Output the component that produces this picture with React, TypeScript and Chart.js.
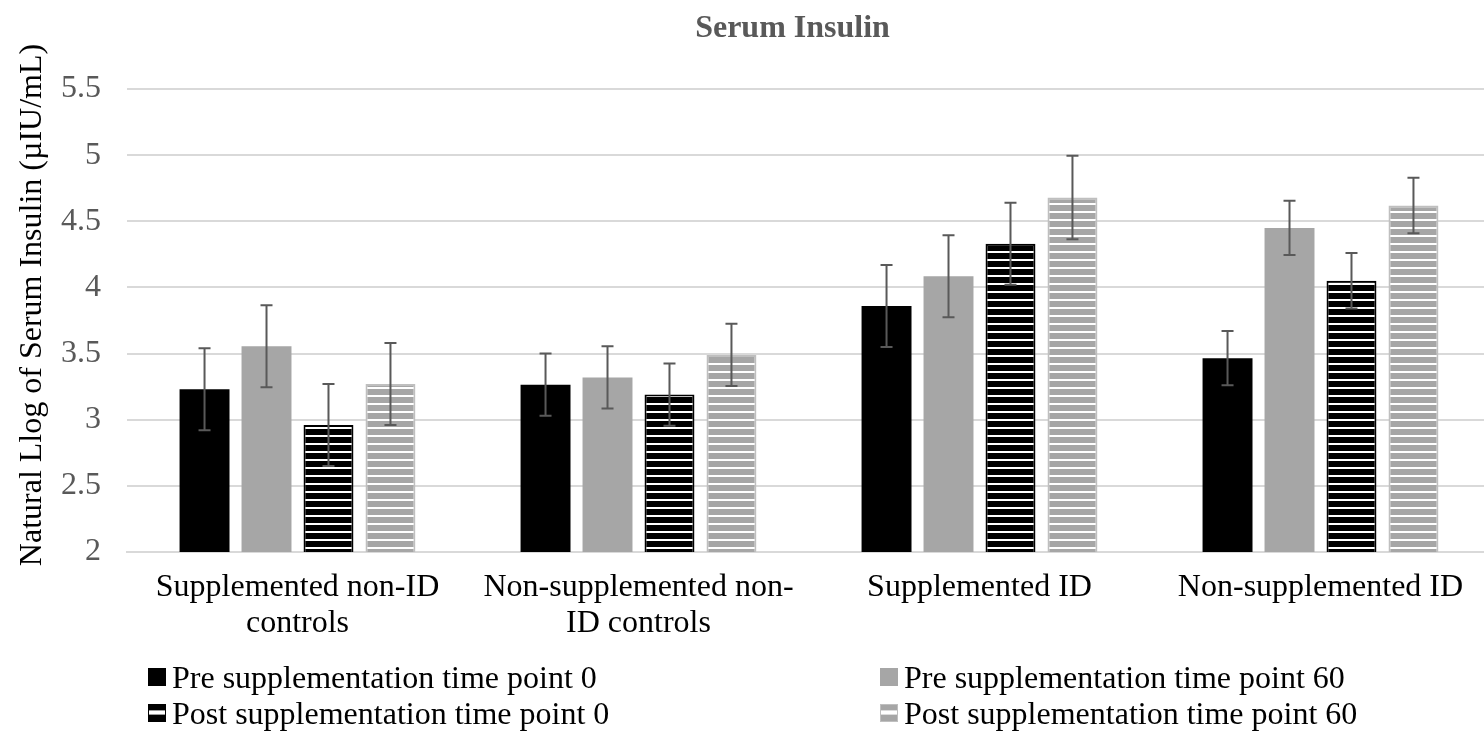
import React, { useEffect, useRef } from "react";
import { Chart, registerables } from "chart.js";

Chart.register(...registerables);

// ---------- data ----------
const categories: (string | string[])[] = [
  ["Supplemented non-ID", "controls"],
  ["Non-supplemented non-", "ID controls"],
  "Supplemented ID",
  "Non-supplemented ID",
];

const seriesLabels = [
  "Pre supplementation time point 0",
  "Pre supplementation time point 60",
  "Post supplementation time point 0",
  "Post supplementation time point 60",
];

const pre0 = [3.23, 3.265, 3.86, 3.465];
const pre60 = [3.555, 3.32, 4.085, 4.45];
const post0 = [2.96, 3.19, 4.33, 4.05];
const post60 = [3.27, 3.49, 4.68, 4.62];

const pre0Err = [0.31, 0.235, 0.31, 0.205];
const pre60Err = [0.31, 0.235, 0.31, 0.205];
const post0Err = [0.31, 0.235, 0.31, 0.21];
const post60Err = [0.31, 0.235, 0.315, 0.21];

const Y_MIN = 2;
const Y_MAX = 5.5;
const Y_STEP = 0.5;

const CHART_TITLE = "Serum Insulin";
const Y_TITLE = "Natural Llog of Serum Insulin (\u00b5IU/mL)";

// ---------- styles ----------
const FONT = '"Liberation Serif", "Times New Roman", serif';
const GRAY = "#a6a6a6";
const TEXT_GRAY = "#595959";

function makeStripes(ctx: CanvasRenderingContext2D, base: string, line: string) {
  const tile = document.createElement("canvas");
  tile.width = 8;
  tile.height = 8;
  const g = tile.getContext("2d")!;
  g.fillStyle = base;
  g.fillRect(0, 0, 8, 8);
  g.fillStyle = line;
  g.fillRect(0, 3, 8, 2);
  return ctx.createPattern(tile, "repeat")!;
}

const errorBarPlugin = {
  id: "errorBars",
  afterDatasetsDraw(chart: any) {
    const ctx = chart.ctx;
    const y = chart.scales.y;
    chart.data.datasets.forEach((ds: any, i: number) => {
      const meta = chart.getDatasetMeta(i);
      meta.data.forEach((bar: any, j: number) => {
        const v = ds.data[j];
        const e = ds.errors[j];
        const yt = y.getPixelForValue(v + e);
        const yb = y.getPixelForValue(v - e);
        ctx.save();
        ctx.strokeStyle = TEXT_GRAY;
        ctx.lineWidth = 2;
        ctx.beginPath();
        ctx.moveTo(bar.x, yt);
        ctx.lineTo(bar.x, yb);
        ctx.moveTo(bar.x - 6, yt);
        ctx.lineTo(bar.x + 6, yt);
        ctx.moveTo(bar.x - 6, yb);
        ctx.lineTo(bar.x + 6, yb);
        ctx.stroke();
        ctx.restore();
      });
    });
  },
};

const textPlugin = {
  id: "texts",
  afterDraw(chart: any) {
    const ctx = chart.ctx;
    ctx.save();
    ctx.fillStyle = TEXT_GRAY;
    ctx.font = `bold 32px ${FONT}`;
    ctx.textAlign = "center";
    ctx.textBaseline = "middle";
    ctx.fillText(CHART_TITLE, chart.width / 2, 29);
    ctx.restore();

    ctx.save();
    ctx.fillStyle = "#000";
    ctx.font = `32px ${FONT}`;
    ctx.translate(33, 305);
    ctx.rotate(-Math.PI / 2);
    ctx.textAlign = "center";
    ctx.textBaseline = "middle";
    ctx.fillText(Y_TITLE, 0, 0);
    ctx.restore();
  },
};

function LegendSwatch({ kind }: { kind: number }) {
  const styles: React.CSSProperties[] = [
    { background: "#000" },
    { background: GRAY },
    {
      background:
        "linear-gradient(to bottom, #000 0px, #000 5px, #9a9a9a 5px, #9a9a9a 6px, #fff 6px, #fff 9px, #9a9a9a 9px, #9a9a9a 10px, #000 10px, #000 18px)",
      border: "1px solid #000",
      boxSizing: "border-box",
    },
    {
      background:
        "linear-gradient(to bottom, " + GRAY + " 0px, " + GRAY + " 5px, #dcdcdc 5px, #dcdcdc 6px, #fff 6px, #fff 9px, #dcdcdc 9px, #dcdcdc 10px, " + GRAY + " 10px, " + GRAY + " 18px)",
      border: "1px solid #bfbfbf",
      boxSizing: "border-box",
    },
  ];
  return (
    <div
      style={{
        width: 18,
        height: 18,
        marginRight: 6,
        flex: "0 0 auto",
        ...styles[kind],
      }}
    />
  );
}

export default function App() {
  const canvasRef = useRef<HTMLCanvasElement | null>(null);

  useEffect(() => {
    document.body.style.margin = "0";
    const canvas = canvasRef.current!;
    const ctx = canvas.getContext("2d")!;
    const blackStripes = makeStripes(ctx, "#000", "#fff");
    const grayStripes = makeStripes(ctx, GRAY, "#fff");

    const common = {
      categoryPercentage: 0.727,
      barPercentage: 0.806,
    };

    const chart = new Chart(canvas, {
      type: "bar",
      data: {
        labels: categories,
        datasets: [
          { label: seriesLabels[0], data: pre0, errors: pre0Err, backgroundColor: "#000", borderWidth: 0, ...common } as any,
          { label: seriesLabels[1], data: pre60, errors: pre60Err, backgroundColor: GRAY, borderWidth: 0, ...common } as any,
          { label: seriesLabels[2], data: post0, errors: post0Err, backgroundColor: blackStripes, borderColor: "#000", borderWidth: 2, borderSkipped: false, ...common } as any,
          { label: seriesLabels[3], data: post60, errors: post60Err, backgroundColor: grayStripes, borderColor: "#bfbfbf", borderWidth: 2, borderSkipped: false, ...common } as any,
        ],
      },
      options: {
        responsive: false,
        animation: false,
        layout: { padding: { top: 89, bottom: 91, left: 0, right: 94 } },
        plugins: {
          legend: { display: false },
          tooltip: { enabled: false },
          title: { display: false },
        },
        scales: {
          x: {
            grid: { display: false, drawTicks: false },
            border: { display: true, color: "#d9d9d9", width: 2 },
            ticks: {
              font: { family: FONT, size: 32, lineHeight: 1.125 },
              color: "#000",
              padding: 18,
              maxRotation: 0,
              minRotation: 0,
              autoSkip: false,
            },
            afterFit: (s: any) => {
              s.height = 100;
            },
          },
          y: {
            min: Y_MIN,
            max: Y_MAX,
            ticks: {
              stepSize: Y_STEP,
              font: { family: FONT, size: 32 },
              color: TEXT_GRAY,
              padding: 26,
              callback: (v: any) => String(Number(v)),
            },
            grid: { color: "#d9d9d9", lineWidth: 2, drawTicks: false },
            border: { display: false },
            afterFit: (s: any) => {
              s.width = 127;
            },
          },
        },
      } as any,
      plugins: [errorBarPlugin, textPlugin],
    });
    return () => chart.destroy();
  }, []);

  const legendPos = [
    { left: 148, top: 659 },
    { left: 880, top: 659 },
    { left: 148, top: 695 },
    { left: 880, top: 695 },
  ];

  return (
    <div style={{ position: "relative", width: 1484, height: 743, overflow: "hidden", background: "#fff" }}>
      <canvas ref={canvasRef} width={1585} height={743} style={{ display: "block", width: 1585, height: 743 }} />
      {seriesLabels.map((lab, i) => (
        <div
          key={lab}
          style={{
            position: "absolute",
            left: legendPos[i].left,
            top: legendPos[i].top,
            height: 36,
            display: "flex",
            alignItems: "center",
            fontFamily: FONT,
            fontSize: 32,
            lineHeight: "36px",
            color: "#000",
            whiteSpace: "nowrap",
          }}
        >
          <LegendSwatch kind={i} />
          <span>{lab}</span>
        </div>
      ))}
    </div>
  );
}
